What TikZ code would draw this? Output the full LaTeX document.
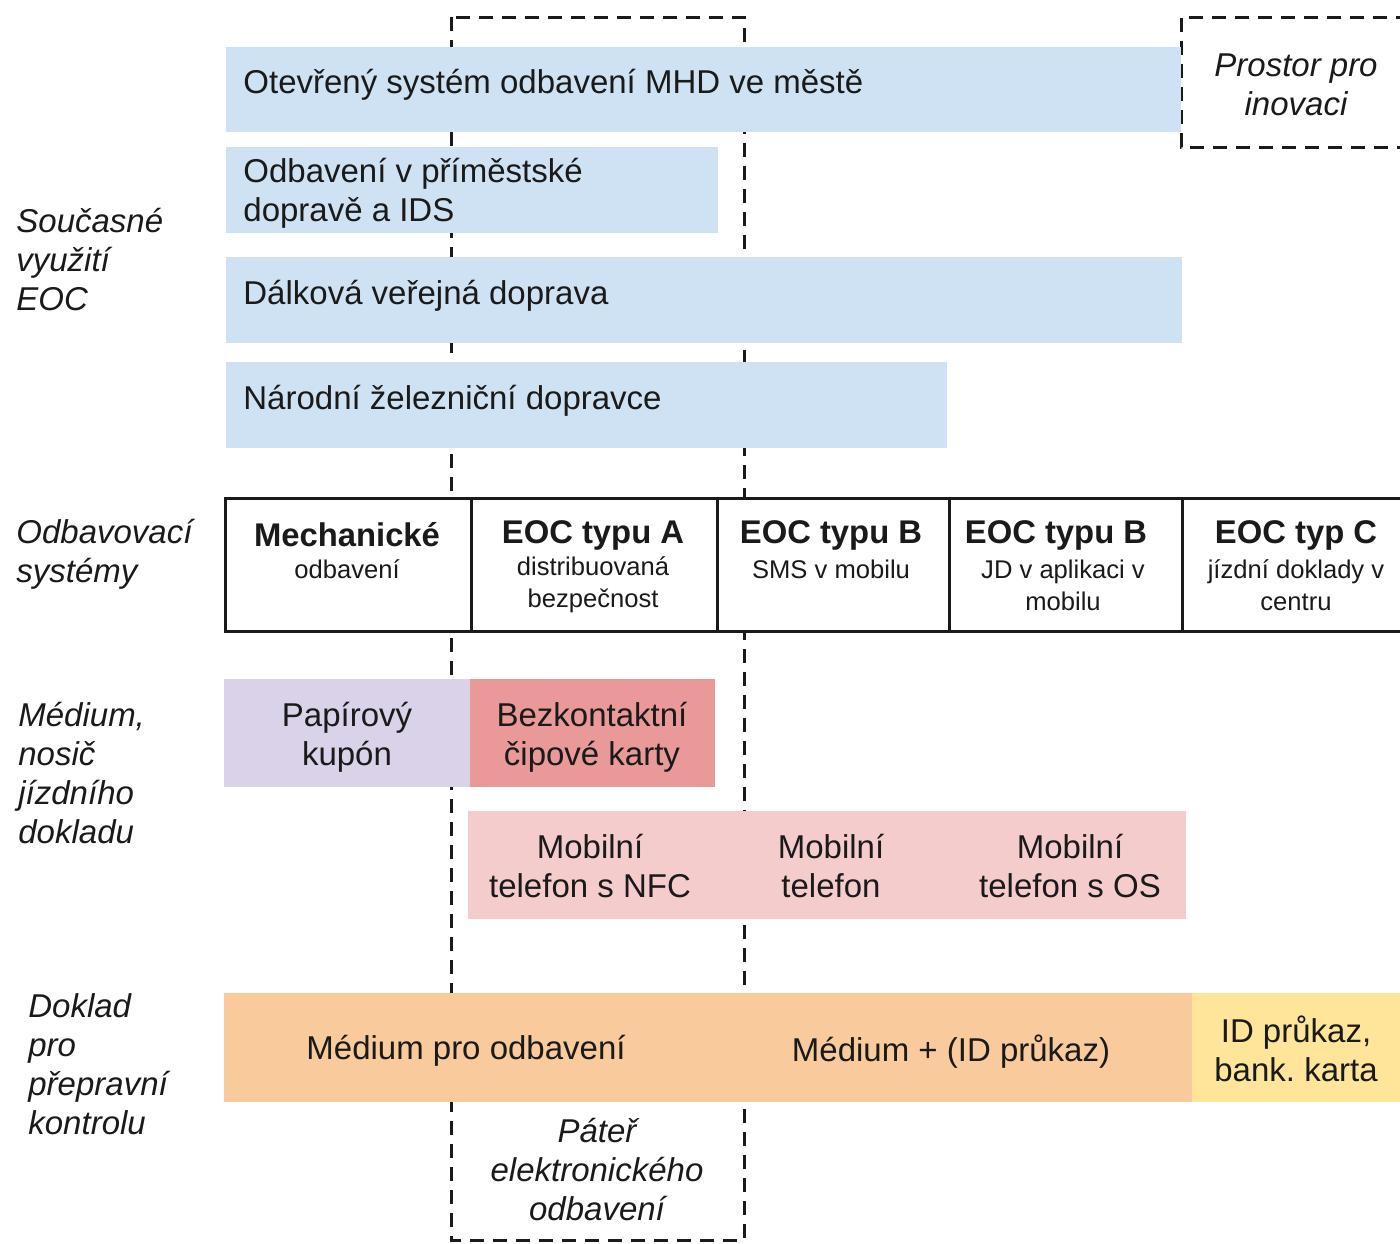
\documentclass[tikz,border=0pt]{standalone}
\usepackage{fontspec}
\setmainfont{Liberation Sans}
\frenchspacing
\definecolor{bandblue}{HTML}{CFE2F3}
\definecolor{paperlav}{HTML}{D9D2E9}
\definecolor{chipred}{HTML}{EA9999}
\definecolor{mobpink}{HTML}{F4CCCC}
\definecolor{inspect}{HTML}{F9CB9C}
\definecolor{idyellow}{HTML}{FFE599}
\definecolor{ink}{HTML}{1A1A1A}
\tikzset{
  maintext/.style={font=\fontsize{16.5}{19.5}\selectfont, text=ink},
  band/.style={anchor=north west, inner sep=0pt, outer sep=0pt, draw=none},
  bandtext/.style={maintext, anchor=west, align=left, inner sep=0pt},
  fillbox/.style={anchor=north west, inner sep=0pt, outer sep=0pt, draw=none,
    align=center, maintext},
  celltext/.style={maintext, align=center, inner sep=0pt},
  cell/.style={draw=ink, fill=white, line width=1.5pt, anchor=north west, inner sep=0pt,
    minimum height=66.5pt},
  headtext/.style={font=\fontsize{16.4}{19}\selectfont\bfseries, text=ink, inner sep=0pt},
  subtext/.style={font=\fontsize{12.8}{16}\selectfont, text=ink, align=center, inner sep=0pt},
  sidelabel/.style={font=\fontsize{16.5}{19.5}\selectfont\itshape, text=ink,
    align=left, anchor=west, inner sep=0pt},
  note/.style={font=\fontsize{16.5}{19.5}\selectfont\itshape, text=ink,
    align=center, inner sep=0pt},
  dashline/.style={draw=ink, line width=1.5pt, dash pattern=on 7pt off 4.5pt}
}
\begin{document}
\begin{tikzpicture}[x=0.5pt, y=-0.5pt]
\useasboundingbox (0,0) rectangle (1400,1243);

% frames: backbone of electronic fare collection, room for innovation
\draw[dashline] (451,17) rectangle (744,1240);
\draw[dashline] (1410,17) -- (1181,17) -- (1181,147) -- (1410,147);

% current use of EOC
\node[band, fill=bandblue, minimum width=477.5pt, minimum height=42.5pt] (open) at (226,47) {};
\node[bandtext] (opentxt) at (243,85) {Otevřený systém odbavení MHD ve městě};
\node[band, fill=bandblue, minimum width=246pt, minimum height=43pt] (suburb) at (226,147) {};
\node[bandtext] (suburbtxt) at (243,193) {Odbavení v příměstské\\dopravě a IDS};
\node[band, fill=bandblue, minimum width=478pt, minimum height=43pt] (long) at (226,257) {};
\node[bandtext] (longtxt) at (243,296) {Dálková veřejná doprava};
\node[band, fill=bandblue, minimum width=360.5pt, minimum height=43pt] (rail) at (226,362) {};
\node[bandtext] (railtxt) at (243,401) {Národní železniční dopravce};

\node[note] (innov) at (1296,85) {Prostor pro\\inovaci};

% fare collection systems
\node[cell, minimum width=123pt] (mech) at (224,497) {};
\node[cell, minimum width=123pt] (eoca) at (470,497) {};
\node[cell, minimum width=116pt] (eocb) at (716,497) {};
\node[cell, minimum width=116.5pt] (eocbapp) at (948,497) {};
\node[cell, minimum width=116pt] (eocc) at (1181,497) {};

\node[headtext] (mechh) at (347,535) {Mechanické};
\node[subtext] (mechs) at (347,569) {odbavení};
\node[headtext] (eocah) at (593,535) {EOC typu A};
\node[subtext] (eocas) at (593,585) {distribuovaná\\bezpečnost};
\node[headtext] (eocbh) at (831,535) {EOC typu B};
\node[subtext] (eocbs) at (831,569) {SMS v mobilu};
\node[headtext] (eocbapph) at (1056,535) {EOC typu B};
\node[subtext] (eocbapps) at (1063,585) {JD v aplikaci v\\mobilu};
\node[headtext] (eocch) at (1296,535) {EOC typ C};
\node[subtext] (eoccs) at (1296,585) {jízdní doklady v\\centru};

% ticket media
\node[fillbox, fill=paperlav, minimum width=123pt, minimum height=54pt] (paper) at (224,679) {};
\node[celltext] (papertxt) at (347,737) {Papírový\\kupón};
\node[fillbox, fill=chipred, minimum width=122.5pt, minimum height=54pt] (chip) at (470,679) {};
\node[celltext] (chiptxt) at (592,737) {Bezkontaktní\\čipové karty};
\node[fillbox, fill=mobpink, minimum width=359pt, minimum height=54pt] (mobile) at (468,811) {};
\node[celltext] (nfc) at (590,866) {Mobilní\\telefon s NFC};
\node[celltext] (phone) at (831,866) {Mobilní\\telefon};
\node[celltext] (phoneos) at (1070,866) {Mobilní\\telefon s OS};

% documents for ticket inspection
\node[fillbox, fill=inspect, minimum width=242pt, minimum height=54.5pt] (medium) at (224,993) {};
\node[celltext] (mediumtxt) at (466,1051) {Médium pro odbavení};
\node[fillbox, fill=inspect, minimum width=242pt, minimum height=54.5pt] (mediumid) at (708,993) {};
\node[celltext] (mediumidtxt) at (951,1052) {Médium + (ID průkaz)};
\node[fillbox, fill=idyellow, minimum width=104pt, minimum height=54.5pt] (idcard) at (1192,993) {};
\node[celltext] (idcardtxt) at (1296,1049) {ID průkaz,\\bank. karta};

\node[note] (backbone) at (597,1169) {Páteř\\elektronického\\odbavení};

% row captions
\node[sidelabel] (usage) at (16,260) {Současné\\využití\\EOC};
\node[sidelabel] (systems) at (16,554) {Odbavovací\\systémy};
\node[sidelabel] (media) at (18,773) {Médium,\\nosič\\jízdního\\dokladu};
\node[sidelabel] (control) at (28,1064) {Doklad\\pro\\přepravní\\kontrolu};
\end{tikzpicture}
\end{document}
